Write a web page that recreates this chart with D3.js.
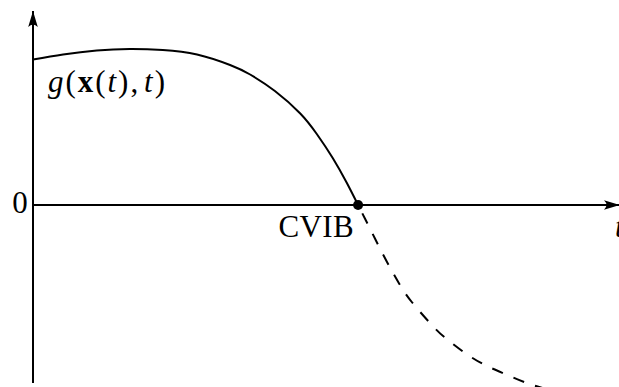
<!DOCTYPE html>
<html>
<head>
<meta charset="utf-8">
<script src="https://cdn.jsdelivr.net/npm/d3@7"></script>
<style>
  html, body { margin: 0; padding: 0; background: #fff; }
  svg { display: block; }
  text { font-family: "Liberation Serif", "DejaVu Serif", serif; fill: #000; }
</style>
</head>
<body>
<svg id="chart" width="619" height="387"></svg>
<script>
// g(x(t), t) before the crossing (solid) and after it (dashed)
const tSolid = [0, 0.51, 1.08, 1.64, 2.20, 2.78, 3.34, 3.68, 4.10, 4.53, 4.81, 5.08, 5.32, 5.51];
const gSolid = [2.91, 3.01, 3.09, 3.12, 3.10, 3.01, 2.80, 2.61, 2.28, 1.83, 1.42, 0.94, 0.44, 0];
const tDashed = [5.51, 5.63, 5.80, 6.00, 6.20, 6.42, 6.76, 6.98, 7.31, 7.66, 8.02, 8.39, 8.76];
const gDashed = [0, -0.28, -0.68, -1.14, -1.56, -1.94, -2.40, -2.65, -2.95, -3.20, -3.39, -3.57, -3.70];

// zero crossing and its label
const crossT = [5.51];
const crossLabels = ["CVIB"];
const yTickValues = [0];
const yTickLabels = ["0"];

// axis extents
const tDomain = [0, 10];
const gDomain = [-3.56, 3.94];

const svg = d3.select("#chart");

const x = d3.scaleLinear().domain(tDomain).range([33, 623]);
const y = d3.scaleLinear().domain(gDomain).range([383, 8]);

// arrow head (latex-like)
svg.append("defs").append("marker")
  .attr("id", "arrow")
  .attr("markerUnits", "userSpaceOnUse")
  .attr("viewBox", "-17 -6 18 12")
  .attr("refX", 0).attr("refY", 0)
  .attr("markerWidth", 18).attr("markerHeight", 12)
  .attr("orient", "auto")
  .append("path")
  .attr("d", "M0,0 L-16,-4.8 Q-11,0 -16,4.8 Z")
  .attr("fill", "#000");

// horizontal axis at g = 0
svg.append("line")
  .attr("x1", x(tDomain[0])).attr("y1", y(0))
  .attr("x2", x(tDomain[1]) - 3).attr("y2", y(0))
  .attr("stroke", "#000").attr("stroke-width", 2)
  .attr("marker-end", "url(#arrow)");

// vertical axis at t = 0
svg.append("line")
  .attr("x1", x(0)).attr("y1", y(gDomain[0]))
  .attr("x2", x(0)).attr("y2", y(gDomain[1]) + 3)
  .attr("stroke", "#000").attr("stroke-width", 2)
  .attr("marker-end", "url(#arrow)");

const line = d3.line()
  .x(d => x(d[0]))
  .y(d => y(d[1]))
  .curve(d3.curveNatural);

svg.append("path")
  .attr("d", line(d3.zip(tSolid, gSolid)))
  .attr("fill", "none")
  .attr("stroke", "#000")
  .attr("stroke-width", 2);

svg.append("path")
  .attr("d", line(d3.zip(tDashed, gDashed)))
  .attr("fill", "none")
  .attr("stroke", "#000")
  .attr("stroke-width", 2)
  .attr("stroke-dasharray", "11.5,11.5")
  .attr("stroke-dashoffset", 13.5);

// crossing point
svg.selectAll("circle.cross")
  .data(crossT)
  .enter().append("circle")
  .attr("class", "cross")
  .attr("cx", d => x(d))
  .attr("cy", y(0))
  .attr("r", 5)
  .attr("fill", "#000");

svg.selectAll("text.cross")
  .data(crossT)
  .enter().append("text")
  .attr("class", "cross")
  .attr("x", d => x(d) - 42)
  .attr("y", y(0) + 32)
  .attr("text-anchor", "middle")
  .attr("font-size", 31)
  .attr("textLength", 75)
  .attr("lengthAdjust", "spacing")
  .text((d, i) => crossLabels[i]);

// y tick label
svg.selectAll("text.ytick")
  .data(yTickValues)
  .enter().append("text")
  .attr("class", "ytick")
  .attr("x", x(0) - 13)
  .attr("y", d => y(d) + 8)
  .attr("text-anchor", "middle")
  .attr("font-size", 31)
  .text((d, i) => yTickLabels[i]);

// axis name t
svg.append("text")
  .attr("x", 615)
  .attr("y", y(0) + 32)
  .attr("font-size", 31)
  .attr("font-style", "italic")
  .text("t");

// curve label g(x(t), t)
const lbl = svg.append("text")
  .attr("x", 48)
  .attr("y", 92)
  .attr("font-size", 31)
  .attr("textLength", 117)
  .attr("lengthAdjust", "spacing");
lbl.append("tspan").attr("font-style", "italic").text("g");
lbl.append("tspan").text("(");
lbl.append("tspan").attr("font-weight", "bold").text("x");
lbl.append("tspan").text("(");
lbl.append("tspan").attr("font-style", "italic").text("t");
lbl.append("tspan").text("),");
lbl.append("tspan").attr("font-style", "italic").attr("dx", 4).text("t");
lbl.append("tspan").text(")");
</script>
</body>
</html>
